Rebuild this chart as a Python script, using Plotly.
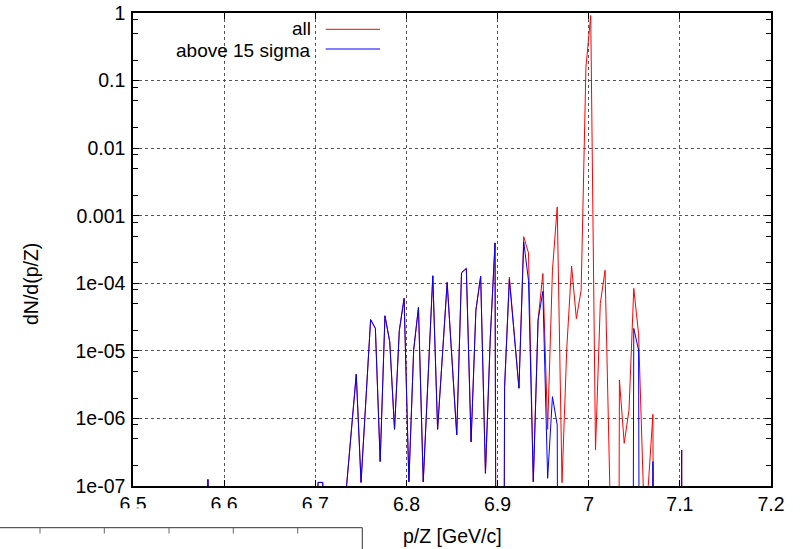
import plotly.graph_objects as go

# ---------------- data ----------------
p_over_z = [
    6.57695, 6.58220, 6.58745, 6.59270, 6.59795, 6.60320, 6.60845, 6.61370, 6.61895, 6.62420,
    6.62945, 6.63470, 6.63995, 6.64520, 6.65045, 6.65570, 6.66095, 6.66620, 6.67145, 6.67670,
    6.68195, 6.68720, 6.69245, 6.69770, 6.70295, 6.70820, 6.71345, 6.71870, 6.72395, 6.72920,
    6.73445, 6.73970, 6.74495, 6.75020, 6.75545, 6.76070, 6.76595, 6.77120, 6.77645, 6.78170,
    6.78695, 6.79220, 6.79745, 6.80270, 6.80795, 6.81320, 6.81845, 6.82370, 6.82895, 6.83420,
    6.83945, 6.84470, 6.84995, 6.85520, 6.86045, 6.86570, 6.87095, 6.87620, 6.88145, 6.88670,
    6.89195, 6.89720, 6.90245, 6.90770, 6.91295, 6.91820, 6.92345, 6.92870, 6.93395, 6.93920,
    6.94445, 6.94970, 6.95495, 6.96020, 6.96545, 6.97070, 6.97595, 6.98120, 6.98645, 6.99170,
    6.99695, 7.00220, 7.00745, 7.01270, 7.01795, 7.02320, 7.02845, 7.03370, 7.03895, 7.04420,
    7.04945, 7.05470, 7.05995, 7.06520, 7.07045, 7.07570, 7.08095, 7.08620, 7.09145, 7.09670,
    7.10195, 7.10720,
]

dn_all = [
    0, 1.25e-7, 0, 0, 0, 0, 0, 0, 0, 0,
    0, 0, 0, 0, 0, 0, 0, 0, 0, 0,
    0, 0, 0, 0, 1.13e-7, 1.13e-7, 0, 0, 0, 0,
    1.05e-7, 6.9e-7, 4.5e-6, 1.13e-7, 1.7e-6, 2.9e-5, 2.15e-5, 2.3e-7, 3.3e-5, 1.36e-5,
    6.9e-7, 2.0e-5, 6.0e-5, 1.15e-7, 1.03e-5, 4.4e-5, 1.15e-7, 3.9e-6, 1.29e-4, 6.9e-7,
    8.4e-6, 1.03e-4, 7.6e-6, 5.7e-7, 1.43e-4, 1.66e-4, 4.5e-7, 4.0e-5, 1.27e-4, 1.54e-7,
    1.5e-5, 3.96e-4, 0, 2.9e-6, 1.24e-4, 1.86e-5, 2.8e-6, 4.9e-4, 2.8e-4, 1.15e-7,
    2.85e-5, 1.4e-4, 6.9e-7, 1.56e-4, 1.35e-3, 1.12e-7, 1.1e-5, 1.8e-4, 3.0e-5, 7.9e-5,
    0.158, 0.92, 3.4e-7, 5.0e-5, 1.56e-4, 9e-8, 0, 3.7e-6, 4.3e-7, 1.33e-6,
    8.4e-5, 1.8e-5, 9e-8, 9.5e-8, 1.15e-6, 0, 0, 0, 0, 0,
    3.4e-7, 0,
]

dn_above_15_sigma = [
    0, 1.25e-7, 0, 0, 0, 0, 0, 0, 0, 0,
    0, 0, 0, 0, 0, 0, 0, 0, 0, 0,
    0, 0, 0, 0, 1.13e-7, 1.13e-7, 0, 0, 0, 0,
    1.05e-7, 6.9e-7, 4.5e-6, 1.13e-7, 1.7e-6, 2.9e-5, 2.15e-5, 2.3e-7, 3.3e-5, 1.36e-5,
    6.9e-7, 2.0e-5, 6.0e-5, 1.15e-7, 1.03e-5, 4.4e-5, 1.15e-7, 3.9e-6, 1.29e-4, 6.9e-7,
    8.4e-6, 1.03e-4, 7.6e-6, 5.7e-7, 1.43e-4, 1.66e-4, 4.5e-7, 4.0e-5, 1.27e-4, 1.54e-7,
    1.5e-5, 3.96e-4, 0, 2.9e-6, 1.14e-4, 1.8e-5, 2.8e-6, 4.1e-4, 1.1e-4, 1.15e-7,
    2.85e-5, 7.6e-5, 1.3e-7, 2.1e-6, 8.0e-7, 0, 0, 0, 0, 0,
    0, 0, 0, 0, 0, 0, 0, 0, 0, 0,
    2.15e-5, 1.03e-5, 0, 0, 2.3e-7, 0, 0, 0, 0, 0,
    3.4e-7, 0,
]

series_names = ["all", "above 15 sigma"]
series_colors = ["#ff0000", "#0000ff"]

x_tick_vals = [6.5, 6.6, 6.7, 6.8, 6.9, 7.0, 7.1, 7.2]
x_tick_text = ["6.5", "6.6", "6.7", "6.8", "6.9", "7", "7.1", "7.2"]
y_tick_vals = [1e-7, 1e-6, 1e-5, 1e-4, 1e-3, 1e-2, 1e-1, 1]
y_tick_text = ["1e-07", "1e-06", "1e-05", "1e-04", "0.001", "0.01", "0.1", "1"]
y_minor_vals = [m * d for d in [1e-7, 1e-6, 1e-5, 1e-4, 1e-3, 1e-2, 1e-1] for m in (2, 5, 8)]

assert len(p_over_z) == len(dn_all) == len(dn_above_15_sigma)

# ---------------- geometry ----------------
W, H = 803, 549
ML, MR, MT, MB = 133, 32, 13, 63
PW, PH = W - ML - MR, H - MT - MB
FONT = "Liberation Sans, Arial, sans-serif"
FS = 19.5
FS_KEY = 19

def px(xp):
    return (xp - ML) / PW

def py(yp):
    return (H - MB - yp) / PH

# empty bins drop to -infinity on a log axis (drawn as near-vertical lines)
ZERO_FLOOR = 1e-30
def for_log(vals):
    return [v if v > 0 else ZERO_FLOOR for v in vals]

fig = go.Figure()
for name, color, vals in zip(series_names, series_colors, [dn_all, dn_above_15_sigma]):
    fig.add_trace(go.Scatter(x=p_over_z, y=for_log(vals), mode="lines", name=name,
                             line=dict(color=color, width=1), showlegend=False,
                             cliponaxis=True))

axis_common = dict(showline=True, linecolor="black", linewidth=1.5, mirror="ticks",
                   ticks="inside", ticklen=6, tickwidth=1.3, tickcolor="black",
                   showgrid=True, gridcolor="#555555", griddash="dot", gridwidth=1,
                   zeroline=False, automargin=False,
                   tickfont=dict(family=FONT, size=FS, color="black"))

fig.update_xaxes(range=[6.5, 7.2], tickmode="array", tickvals=x_tick_vals,
                 ticktext=x_tick_text, ticklabelstandoff=0, **axis_common)
fig.update_yaxes(type="log", range=[-7, 0], tickmode="array", tickvals=y_tick_vals,
                 ticktext=y_tick_text, ticklabelstandoff=2,
                 minor=dict(tickmode="array", tickvals=y_minor_vals, ticks="inside",
                            ticklen=5, tickwidth=1.2, tickcolor="black", showgrid=False),
                 **axis_common)

annotations = [
    dict(text="p/Z [GeV/c]", x=px(452.5), y=py(536), xref="paper", yref="paper",
         showarrow=False, xanchor="center", yanchor="middle",
         font=dict(family=FONT, size=FS, color="black")),
    dict(text="dN/d(p/Z)", x=px(31), y=py(284), xref="paper", yref="paper",
         showarrow=False, xanchor="center", yanchor="middle", textangle=-90,
         font=dict(family=FONT, size=FS, color="black")),
]
shapes = []
legend_text_y = [28.3, 50.0]
legend_line_y = [29.3, 49.0]
for name, color, ty, ly in zip(series_names, series_colors, legend_text_y, legend_line_y):
    annotations.append(dict(text=name, x=px(313), y=py(ty), xref="paper", yref="paper",
                            showarrow=False, xanchor="right", yanchor="middle",
                            font=dict(family=FONT, size=FS_KEY, color="black")))
    shapes.append(dict(type="line", xref="paper", yref="paper", x0=px(325.7), x1=px(380),
                       y0=py(ly), y1=py(ly), line=dict(color=color, width=1)))

# overlapping window fragment at the bottom-left corner
shapes.append(dict(type="rect", xref="paper", yref="paper", x0=px(0), x1=px(363),
                   y0=py(549), y1=py(508.3), fillcolor="white", line=dict(width=0),
                   layer="above"))
shapes.append(dict(type="line", xref="paper", yref="paper", x0=px(0), x1=px(362.3),
                   y0=py(527.7), y1=py(527.7), line=dict(color="#333333", width=1),
                   layer="above"))
shapes.append(dict(type="line", xref="paper", yref="paper", x0=px(362.3), x1=px(362.3),
                   y0=py(527.7), y1=py(549), line=dict(color="#333333", width=1),
                   layer="above"))
for tx in [40, 104.3, 169, 233.3, 297.7]:
    shapes.append(dict(type="line", xref="paper", yref="paper", x0=px(tx), x1=px(tx),
                       y0=py(527.7), y1=py(533.5), line=dict(color="#666666", width=1),
                       layer="above"))

fig.update_layout(width=W, height=H, margin=dict(l=ML, r=MR, t=MT, b=MB, pad=0,
                                                 autoexpand=False),
                  paper_bgcolor="white", plot_bgcolor="white",
                  font=dict(family=FONT, size=FS, color="black"),
                  annotations=annotations, shapes=shapes, showlegend=False)

fig.write_html("out.html")
